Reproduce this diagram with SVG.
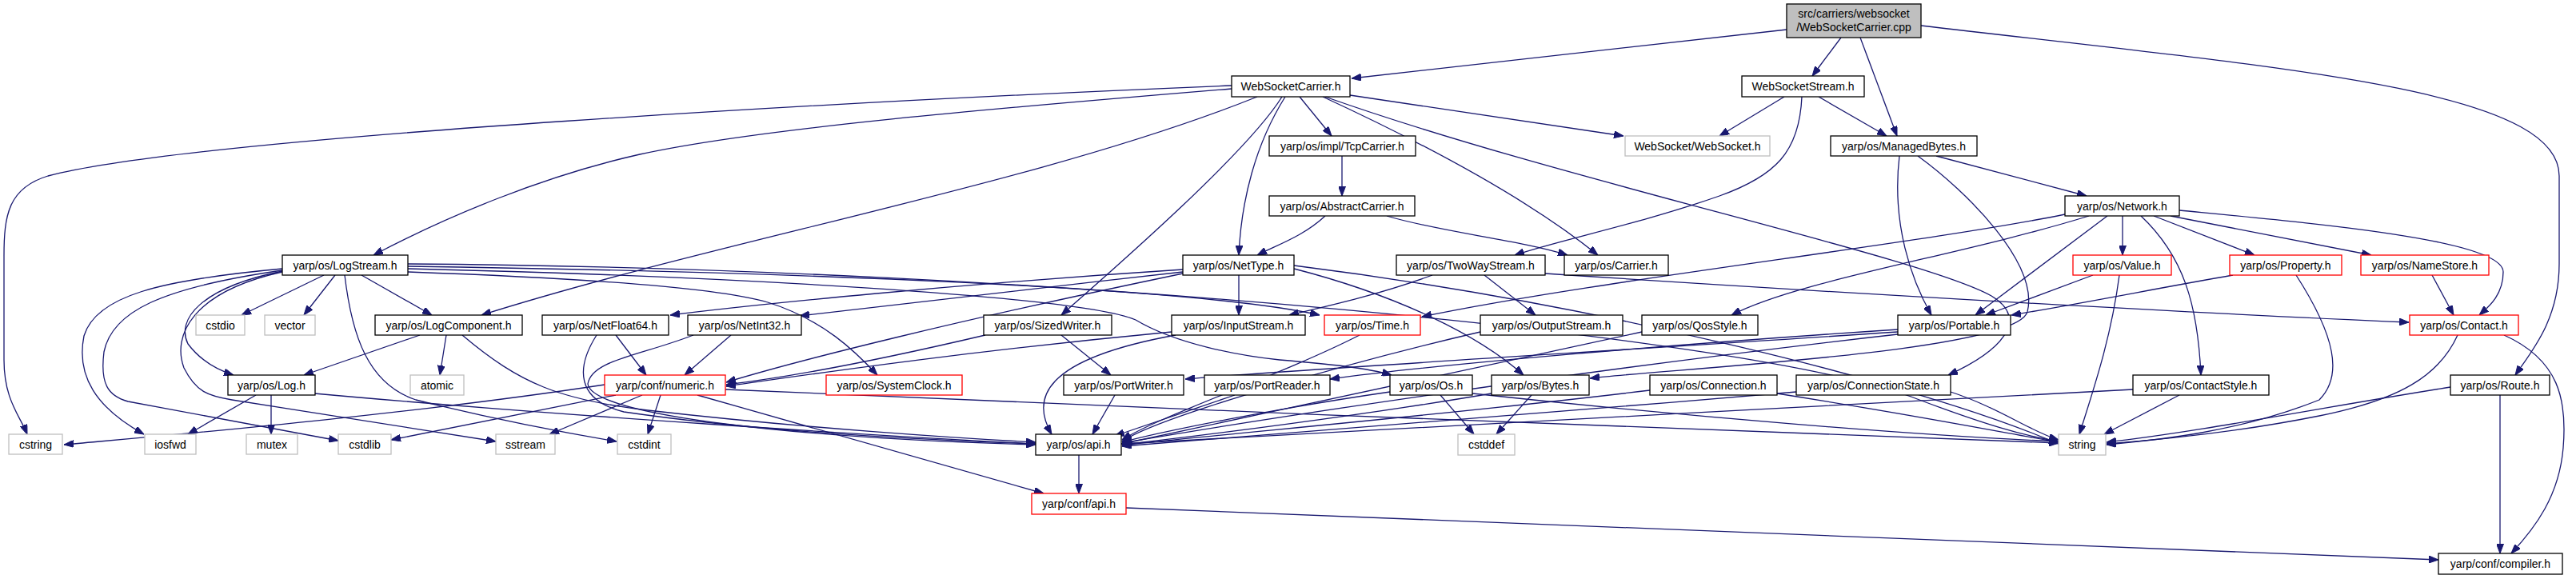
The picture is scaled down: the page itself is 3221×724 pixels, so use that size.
<svg xmlns="http://www.w3.org/2000/svg" width="3221" height="724" viewBox="0 0 3221 724">
<style>
rect{fill:#fff;stroke:#000;stroke-width:1.3}
.r rect{stroke:#f00}
.g rect{stroke:#bfbfbf}
.m rect{fill:#bfbfbf}
text{font-family:"Liberation Sans",Arial,sans-serif;font-size:14px;text-anchor:middle;fill:#000}
#edges path{fill:none;stroke:#191970;stroke-width:1.3;marker-end:url(#a)}
</style>
<defs>
<marker id="a" markerUnits="userSpaceOnUse" markerWidth="12" markerHeight="9" viewBox="0 0 12 9" refX="12" refY="4.5" orient="auto">
<path d="M0,0 L12,4.5 L0,9 z" fill="#191970" stroke="#191970"/>
</marker>
</defs>
<rect x="0" y="0" width="3221" height="724" style="fill:#fff;stroke:none"/>
<g id="edges">
<path d="M2234,37 L1690,98"/>
<path d="M2302,47 L2266,95"/>
<path d="M2326,47 L2372,170"/>
<path d="M2402,32 C2850,85 3200,110 3200,220 L3200,330 C3200,400 3165,440 3145,469"/>
<path d="M1540,107 C1100,125 250,170 60,220 C10,235 5,270 5,320 L5,450 C5,500 25,520 34,543"/>
<path d="M1540,111 C1250,135 950,160 800,193 C680,220 560,270 467,319"/>
<path d="M1572,121 C1300,230 900,300 602,394"/>
<path d="M1603,121 C1560,190 1400,330 1327,394"/>
<path d="M1607,121 C1570,180 1552,250 1549,319"/>
<path d="M1625,121 L1665,170"/>
<path d="M1654,121 C1760,170 1900,240 1998,319"/>
<path d="M1657,121 C1950,225 2400,320 2490,370 C2540,400 2500,440 2436,469"/>
<path d="M1688,119 L2030,170"/>
<path d="M2231,121 L2150,170"/>
<path d="M2274,121 L2359,170"/>
<path d="M2253,121 C2250,190 2220,220 2150,245 C2050,280 1950,300 1894,319"/>
<path d="M1678,195 L1678,245"/>
<path d="M1657,270 C1630,295 1600,305 1572,319"/>
<path d="M1734,270 C1800,290 1900,300 1960,319"/>
<path d="M2421,195 L2609,245"/>
<path d="M2375,195 C2365,280 2390,350 2415,394"/>
<path d="M2398,195 C2460,240 2550,330 2535,390 C2520,440 2100,460 1988,473"/>
<path d="M405,344 L302,394"/>
<path d="M419,344 L380,394"/>
<path d="M452,344 L540,394"/>
<path d="M353,339 C250,360 220,400 235,430 C250,450 270,462 292,469"/>
<path d="M353,336 C200,350 120,370 105,420 C95,470 120,510 180,543"/>
<path d="M353,338 C200,360 140,390 130,440 C125,480 135,495 160,502 L423,551"/>
<path d="M353,340 C240,365 215,420 230,460 C245,490 260,495 290,500 L620,552"/>
<path d="M431,344 C440,420 460,480 520,500 C600,520 700,540 771,552"/>
<path d="M510,340 C650,345 880,355 960,378 C1030,400 1070,440 1097,469"/>
<path d="M510,333 C1000,340 1500,360 1650,394"/>
<path d="M510,336 C900,345 1350,370 1420,400 C1470,430 1550,445 1600,450 C1660,455 1710,460 1740,469"/>
<path d="M510,330 C1300,335 2200,420 2400,500 C2480,530 2530,545 2574,552"/>
<path d="M525,419 L380,469"/>
<path d="M558,419 L550,469"/>
<path d="M578,419 C650,480 700,500 810,513 C1000,535 1200,548 1295,553"/>
<path d="M320,494 L235,543"/>
<path d="M339,494 L339,543"/>
<path d="M393,492 C700,520 1100,545 1295,555"/>
<path d="M1479,337 C1200,355 950,380 838,394"/>
<path d="M1479,340 C1300,360 1100,382 1000,395"/>
<path d="M1549,344 L1549,394"/>
<path d="M1618,336 C1750,370 1850,420 1905,469"/>
<path d="M1479,342 C1200,400 1000,450 908,478"/>
<path d="M1618,332 C2000,380 2400,480 2574,555"/>
<path d="M770,419 L808,469"/>
<path d="M746,419 C720,460 720,500 780,515 C950,540 1150,550 1295,555"/>
<path d="M914,419 L856,469"/>
<path d="M867,419 C800,445 740,450 735,480 C740,520 1000,548 1295,556"/>
<path d="M1327,419 L1389,469"/>
<path d="M1232,419 C1100,450 1000,470 908,481"/>
<path d="M1465,415 C1200,440 1000,470 908,483"/>
<path d="M1470,419 C1300,450 1290,500 1315,543"/>
<path d="M1791,344 C1720,370 1650,385 1612,394"/>
<path d="M1856,344 L1920,394"/>
<path d="M1932,342 C2200,360 2700,390 3012,403"/>
<path d="M2654,270 L2654,319"/>
<path d="M2693,270 L2819,319"/>
<path d="M2714,270 L2965,319"/>
<path d="M2725,263 C2900,280 3130,300 3130,340 C3130,370 3110,385 3100,394"/>
<path d="M2677,270 C2730,320 2748,380 2752,469"/>
<path d="M2635,270 L2470,394"/>
<path d="M2582,268 C2400,305 2000,350 1778,396"/>
<path d="M2612,270 C2450,320 2250,350 2165,394"/>
<path d="M2617,344 L2483,394"/>
<path d="M2650,344 C2640,420 2620,480 2600,543"/>
<path d="M2792,344 C2700,360 2600,380 2515,394"/>
<path d="M2871,344 C2920,420 2930,470 2900,500 C2800,540 2700,550 2634,556"/>
<path d="M3041,344 L3068,394"/>
<path d="M3073,419 C3050,470 3000,500 2900,520 C2800,540 2700,550 2634,555"/>
<path d="M3131,419 C3200,450 3210,500 3205,560 C3200,620 3170,660 3140,692"/>
<path d="M3126,494 L3126,692"/>
<path d="M3064,484 C2900,510 2750,540 2634,553"/>
<path d="M2725,494 L2631,543"/>
<path d="M2667,487 C2300,505 1700,540 1402,555"/>
<path d="M1801,494 L1843,543"/>
<path d="M1915,494 L1871,543"/>
<path d="M1738,490 C1600,510 1450,540 1403,553"/>
<path d="M1841,492 C2100,520 2400,545 2574,552"/>
<path d="M1865,492 C1700,520 1500,545 1403,556"/>
<path d="M2063,488 C1800,520 1500,545 1403,557"/>
<path d="M2222,492 C2400,520 2500,540 2574,553"/>
<path d="M2246,490 C1900,520 1500,548 1403,558"/>
<path d="M2439,490 C2500,510 2540,540 2574,550"/>
<path d="M1700,419 C1600,470 1450,520 1403,550"/>
<path d="M1394,494 L1366,543"/>
<path d="M1544,494 L1394,545"/>
<path d="M2373,412 C2100,430 1800,455 1663,474"/>
<path d="M2373,415 C2000,440 1650,460 1482,474"/>
<path d="M2373,418 C2000,460 1600,520 1403,554"/>
<path d="M2053,415 C1800,470 1500,535 1403,555"/>
<path d="M1851,415 C1700,450 1450,520 1403,552"/>
<path d="M756,481 C500,520 200,545 80,556"/>
<path d="M770,494 L489,550"/>
<path d="M803,494 L687,543"/>
<path d="M826,494 L810,543"/>
<path d="M872,494 L1305,617"/>
<path d="M907,487 C1400,510 2200,540 2574,554"/>
<path d="M1349,569 L1349,617"/>
<path d="M1408,635 L3049,700"/>
</g>
<g id="n_cpp" class="m"><rect x="2234" y="5" width="168" height="42"/><text x="2318" y="22">src/carriers/websocket</text><text x="2318" y="39">/WebSocketCarrier.cpp</text></g>
<g id="n_wsc"><rect x="1540" y="95" width="148" height="26"/><text x="1614" y="113">WebSocketCarrier.h</text></g>
<g id="n_wss"><rect x="2178" y="95" width="153" height="26"/><text x="2254.5" y="113">WebSocketStream.h</text></g>
<g id="n_ws" class="g"><rect x="2032" y="170" width="181" height="25"/><text x="2122.5" y="187.5">WebSocket/WebSocket.h</text></g>
<g id="n_tcp"><rect x="1587" y="170" width="183" height="25"/><text x="1678.5" y="187.5">yarp/os/impl/TcpCarrier.h</text></g>
<g id="n_mb"><rect x="2289" y="170" width="183" height="25"/><text x="2380.5" y="187.5">yarp/os/ManagedBytes.h</text></g>
<g id="n_abs"><rect x="1587" y="245" width="182" height="25"/><text x="1678" y="262.5">yarp/os/AbstractCarrier.h</text></g>
<g id="n_net"><rect x="2582" y="245" width="143" height="25"/><text x="2653.5" y="262.5">yarp/os/Network.h</text></g>
<g id="n_ls"><rect x="353" y="319" width="157" height="25"/><text x="431.5" y="336.5">yarp/os/LogStream.h</text></g>
<g id="n_nt"><rect x="1479" y="319" width="139" height="25"/><text x="1548.5" y="336.5">yarp/os/NetType.h</text></g>
<g id="n_tw"><rect x="1746" y="319" width="186" height="25"/><text x="1839" y="336.5">yarp/os/TwoWayStream.h</text></g>
<g id="n_car"><rect x="1956" y="319" width="130" height="25"/><text x="2021" y="336.5">yarp/os/Carrier.h</text></g>
<g id="n_val" class="r"><rect x="2592" y="319" width="123" height="25"/><text x="2653.5" y="336.5">yarp/os/Value.h</text></g>
<g id="n_prop" class="r"><rect x="2788" y="319" width="140" height="25"/><text x="2858" y="336.5">yarp/os/Property.h</text></g>
<g id="n_ns" class="r"><rect x="2952" y="319" width="160" height="25"/><text x="3032" y="336.5">yarp/os/NameStore.h</text></g>
<g id="n_cstdio" class="g"><rect x="245" y="394" width="61" height="25"/><text x="275.5" y="411.5">cstdio</text></g>
<g id="n_vector" class="g"><rect x="331" y="394" width="63" height="25"/><text x="362.5" y="411.5">vector</text></g>
<g id="n_lc"><rect x="469" y="394" width="184" height="25"/><text x="561" y="411.5">yarp/os/LogComponent.h</text></g>
<g id="n_nf"><rect x="678" y="394" width="158" height="25"/><text x="757" y="411.5">yarp/os/NetFloat64.h</text></g>
<g id="n_ni"><rect x="860" y="394" width="142" height="25"/><text x="931" y="411.5">yarp/os/NetInt32.h</text></g>
<g id="n_sw"><rect x="1230" y="394" width="160" height="25"/><text x="1310" y="411.5">yarp/os/SizedWriter.h</text></g>
<g id="n_is"><rect x="1465" y="394" width="167" height="25"/><text x="1548.5" y="411.5">yarp/os/InputStream.h</text></g>
<g id="n_time" class="r"><rect x="1656" y="394" width="120" height="25"/><text x="1716" y="411.5">yarp/os/Time.h</text></g>
<g id="n_os"><rect x="1851" y="394" width="178" height="25"/><text x="1940" y="411.5">yarp/os/OutputStream.h</text></g>
<g id="n_qos"><rect x="2053" y="394" width="145" height="25"/><text x="2125.5" y="411.5">yarp/os/QosStyle.h</text></g>
<g id="n_port"><rect x="2373" y="394" width="141" height="25"/><text x="2443.5" y="411.5">yarp/os/Portable.h</text></g>
<g id="n_contact" class="r"><rect x="3013" y="394" width="136" height="25"/><text x="3081" y="411.5">yarp/os/Contact.h</text></g>
<g id="n_log"><rect x="285" y="469" width="109" height="25"/><text x="339.5" y="486.5">yarp/os/Log.h</text></g>
<g id="n_atomic" class="g"><rect x="513" y="469" width="67" height="25"/><text x="546.5" y="486.5">atomic</text></g>
<g id="n_num" class="r"><rect x="756" y="469" width="151" height="25"/><text x="831.5" y="486.5">yarp/conf/numeric.h</text></g>
<g id="n_sc" class="r"><rect x="1033" y="469" width="170" height="25"/><text x="1118" y="486.5">yarp/os/SystemClock.h</text></g>
<g id="n_pw"><rect x="1330" y="469" width="150" height="25"/><text x="1405" y="486.5">yarp/os/PortWriter.h</text></g>
<g id="n_pr"><rect x="1506" y="469" width="157" height="25"/><text x="1584.5" y="486.5">yarp/os/PortReader.h</text></g>
<g id="n_oss"><rect x="1738" y="469" width="103" height="25"/><text x="1789.5" y="486.5">yarp/os/Os.h</text></g>
<g id="n_bytes"><rect x="1865" y="469" width="122" height="25"/><text x="1926" y="486.5">yarp/os/Bytes.h</text></g>
<g id="n_conn"><rect x="2063" y="469" width="159" height="25"/><text x="2142.5" y="486.5">yarp/os/Connection.h</text></g>
<g id="n_cs"><rect x="2246" y="469" width="193" height="25"/><text x="2342.5" y="486.5">yarp/os/ConnectionState.h</text></g>
<g id="n_cstyle"><rect x="2667" y="469" width="170" height="25"/><text x="2752" y="486.5">yarp/os/ContactStyle.h</text></g>
<g id="n_route"><rect x="3064" y="469" width="124" height="25"/><text x="3126" y="486.5">yarp/os/Route.h</text></g>
<g id="n_cstring" class="g"><rect x="11" y="543" width="67" height="25"/><text x="44.5" y="560.5">cstring</text></g>
<g id="n_iosfwd" class="g"><rect x="181" y="543" width="64" height="25"/><text x="213" y="560.5">iosfwd</text></g>
<g id="n_mutex" class="g"><rect x="308" y="543" width="64" height="25"/><text x="340" y="560.5">mutex</text></g>
<g id="n_cstdlib" class="g"><rect x="423" y="543" width="66" height="25"/><text x="456" y="560.5">cstdlib</text></g>
<g id="n_sstream" class="g"><rect x="620" y="543" width="74" height="25"/><text x="657" y="560.5">sstream</text></g>
<g id="n_cstdint" class="g"><rect x="772" y="543" width="67" height="25"/><text x="805.5" y="560.5">cstdint</text></g>
<g id="n_api"><rect x="1295" y="543" width="107" height="26"/><text x="1348.5" y="561">yarp/os/api.h</text></g>
<g id="n_cstddef" class="g"><rect x="1823" y="543" width="71" height="26"/><text x="1858.5" y="561">cstddef</text></g>
<g id="n_string" class="g"><rect x="2574" y="543" width="59" height="26"/><text x="2603.5" y="561">string</text></g>
<g id="n_capi" class="r"><rect x="1290" y="617" width="118" height="26"/><text x="1349" y="635">yarp/conf/api.h</text></g>
<g id="n_compiler"><rect x="3049" y="692" width="155" height="26"/><text x="3126.5" y="710">yarp/conf/compiler.h</text></g>
</svg>
